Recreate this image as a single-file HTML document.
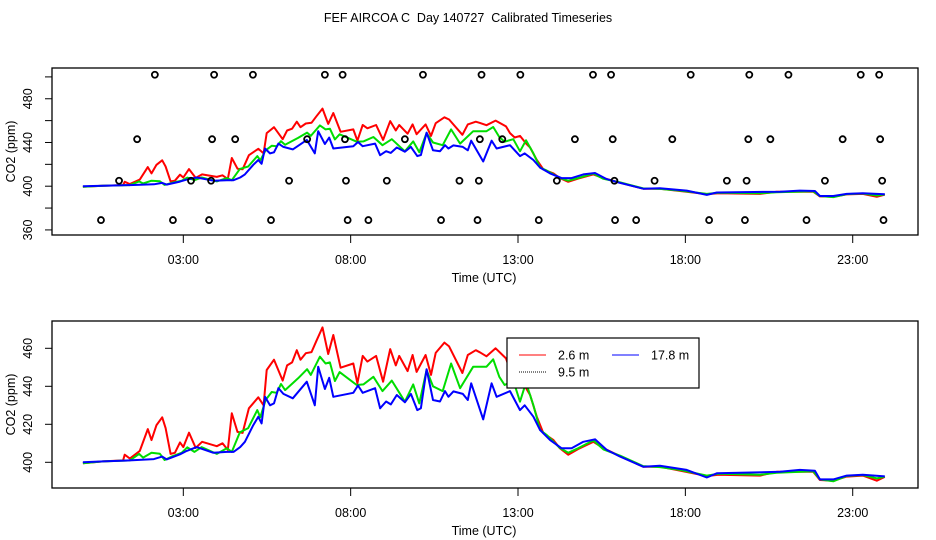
<!DOCTYPE html>
<html><head><meta charset="utf-8"><style>
body{margin:0;background:#fff;}
svg{display:block;font-family:"Liberation Sans",Arial,sans-serif;}
</style></head><body>
<svg id="chart" width="936" height="540" viewBox="0 0 936 540">
<text x="468" y="22" text-anchor="middle" font-size="12.5" style="white-space:pre">FEF AIRCOA C  Day 140727  Calibrated Timeseries</text>
</svg>
<script>
// ---- data (hours UTC, ppm) ----
const redT=[0,0.6,1.2,1.25,1.4,1.7,1.94,2.05,2.2,2.37,2.47,2.62,2.75,2.9,3.0,3.17,3.37,3.56,4.0,4.17,4.33,4.45,4.62,4.77,4.96,5.24,5.4,5.49,5.71,5.97,6.1,6.25,6.39,6.5,6.66,6.83,6.98,7.16,7.33,7.48,7.7,8.08,8.2,8.36,8.5,8.76,8.97,9.18,9.35,9.45,9.7,9.85,9.97,10.24,10.4,10.54,10.8,10.94,11.34,11.5,11.74,11.86,12.06,12.33,12.64,12.76,12.9,13.06,13.26,13.36,13.56,13.76,14.06,14.25,14.5,14.8,15.25,15.55,16.05,16.74,17.24,17.84,18.64,19.0,20.23,20.73,21.82,22.02,22.42,22.82,23.3,23.72,23.96];
const redV=[399.5,400.5,401,404,402,406,417.5,411.7,419.6,423.7,418,404.4,405,410.5,408,415.6,407.6,410.8,408.5,410,406.5,425.8,416,415.5,428.4,434.2,430,448.6,454,443,451,452.6,459,454,457.4,458,464,471,457,467,449.8,452,441.6,456,453,456,442.4,459.6,451,456,448,456.5,447.6,456.5,446,457.6,463,461,447,456.5,459,457.9,455.8,460,454.7,448.6,444.6,446,438.4,435.4,424,415.3,411.7,407.4,404,407,410.8,407.4,403.2,397.7,397.7,395.6,392.8,393.5,393,395,395,390.7,390.3,392.5,393,390.3,392.3];
const greenT=[0,0.6,1.4,1.68,1.8,2.05,2.3,2.44,2.65,2.95,3.12,3.33,3.55,4.0,4.3,4.45,4.69,4.94,5.21,5.3,5.46,5.64,5.79,5.92,6.04,6.43,6.7,6.81,7.08,7.25,7.38,7.53,7.67,8.18,8.38,8.68,8.95,9.23,9.62,9.87,10.05,10.27,10.46,10.75,11.0,11.27,11.66,12.06,12.26,12.44,12.6,12.86,13.06,13.24,13.46,13.66,13.86,14.25,14.5,14.8,15.25,15.55,16.05,16.74,17.24,17.84,18.64,19.0,20.23,20.73,21.82,22.02,22.42,22.82,23.3,23.72,23.96];
const greenV=[399.5,400.5,401,404.4,402.5,405,404.5,401.2,403,405,407.9,405.5,408,404.4,407.4,405.5,415.8,418,427.5,423.7,432.8,437,436.6,441.2,438,444.2,449,446,455.6,452,452.6,442.8,447.5,440.7,441,445,437.5,443,431.9,441,431,448.6,440,437.5,452,439,450.3,450.3,454.2,445,440.7,443,431.9,442,430,417,414.3,407.6,405,407.5,411.5,406.8,403.5,398,397.5,396,393,394,393.5,394.5,395.3,391,390,392.8,393.3,391.5,392.4];
const blueT=[0,0.6,1.4,2.12,2.37,2.5,2.9,3.1,3.4,3.9,4.3,4.5,4.7,4.84,5.09,5.24,5.34,5.44,5.59,5.71,5.84,5.99,6.27,6.69,6.93,7.03,7.23,7.36,7.48,8.08,8.22,8.36,8.73,8.88,9.06,9.2,9.38,9.62,9.8,9.99,10.1,10.27,10.46,10.67,10.82,10.92,11.07,11.35,11.5,11.6,11.96,12.21,12.36,12.76,13.06,13.2,13.46,13.66,13.96,14.3,14.6,14.95,15.3,15.65,16.05,16.74,17.24,18.04,18.64,18.94,20.83,21.42,21.87,22.02,22.42,22.82,23.3,23.96];
const blueV=[400,400.5,401,401.7,403,401.5,404.2,406,408,405,405.5,405.5,408,410.8,419.6,424,420.5,434.5,430,431,439,436,433.7,442.4,430,450.3,438.6,444.5,434.5,436.6,440.4,436.6,439,428.4,432,430.5,435.4,431.6,436,427.5,428.5,449,432.8,432,437.5,434.5,437.3,436,432.8,441.6,422.6,441.6,434.5,437.5,427.5,430,424,417,411.7,407.4,407.4,410.8,412.1,406.5,403,397.7,398.2,396,392,394.2,395,396,395.6,391,391,393,393.5,392.6];
// flag markers (hours) at four levels
const flagLevels=[502,443,405,369];
const flagRow502=[2.15,3.92,5.08,7.23,7.76,10.16,11.91,13.07,15.24,15.78,18.16,19.91,21.08,23.24,23.79];
const flagRow443=[1.62,3.86,4.55,6.7,7.83,9.62,11.86,12.53,14.7,15.83,17.61,19.88,20.54,22.7,23.82];
const flagRow405=[1.08,3.23,3.83,6.16,7.86,9.08,11.25,11.83,14.16,15.88,17.08,19.24,19.83,22.17,23.88];
const flagRow369=[0.54,2.69,3.77,5.62,7.91,8.53,10.7,11.79,13.62,15.9,16.53,18.71,19.78,21.62,23.92];
const xTicks=[3,8,13,18,23];
const xTickLabels=["03:00","08:00","13:00","18:00","23:00"];
const topYTicks=[360,380,400,420,440,460,480,500];
const topYLabels=[360,400,440,480];
const botYTicks=[400,420,440,460];

const NS="http://www.w3.org/2000/svg";
const svg=document.getElementById('chart');
function mk(tag,attrs,parent){const e=document.createElementNS(NS,tag);for(const k in attrs)e.setAttribute(k,attrs[k]);(parent||svg).appendChild(e);return e;}
const X0=52,X1=918;
function xs(h){return 82.9+h*33.47;}

function panel(name,top,bot,y400,ppx,yTicks,yLabels,withFlags,withLegend){
  const g=mk('g',{});
  
  
  const ys=v=>y400-(v-400)*ppx;
  const box=mk('rect',{x:X0,y:top,width:X1-X0,height:bot-top,fill:'none',stroke:'#000','stroke-width':1.3},g);
  
  
  const xa=mk('g',{},g);
  
  
  xTicks.forEach((h,i)=>{
    mk('line',{x1:xs(h),x2:xs(h),y1:bot,y2:bot+8,stroke:'#000','stroke-width':1},xa);
    const t=mk('text',{x:xs(h),y:bot+29,'text-anchor':'middle','font-size':12.5},xa);
    t.textContent=xTickLabels[i];
    
    
  });
  const xt=mk('text',{x:484,y:bot+47,'text-anchor':'middle','font-size':12.5},g);
  xt.textContent='Time (UTC)';
  
  
  const ya=mk('g',{},g);
  
  
  yTicks.forEach(v=>{mk('line',{x1:X0-7,x2:X0,y1:ys(v),y2:ys(v),stroke:'#000','stroke-width':1},ya);});
  yLabels.forEach(v=>{
    const t=mk('text',{x:32,y:ys(v),'text-anchor':'middle','font-size':12.5,transform:`rotate(-90 32 ${ys(v)})`},ya);
    t.textContent=v;
    
    
  });
  const cy=(top+bot)/2;
  const yt=mk('text',{x:15,y:cy,'text-anchor':'middle','font-size':12.5,transform:`rotate(-90 15 ${cy})`},g);
  yt.textContent='CO2 (ppm)';
  
  
  const series=[[redT,redV,'#ff0000','series-2-6m'],[greenT,greenV,'#00dd00','series-9-5m'],[blueT,blueV,'#0000ff','series-17-8m']];
  series.forEach(([T,V,c,n])=>{
    const pts=T.map((h,i)=>xs(h).toFixed(1)+','+ys(V[i]).toFixed(1)).join(' ');
    const p=mk('polyline',{points:pts,fill:'none',stroke:c,'stroke-width':2,'stroke-linejoin':'round'},g);
    
    
  });
  if(withFlags){
    const fg=mk('g',{},g);
    
    
    [flagRow502,flagRow443,flagRow405,flagRow369].forEach((row,ri)=>{
      row.forEach(h=>{
        const c=mk('circle',{cx:xs(h),cy:ys(flagLevels[ri]),r:3,fill:'none',stroke:'#000','stroke-width':1.8},fg);
        
        
      });
    });
  }
  if(withLegend){
    const lg=mk('g',{},g);
    
    
    mk('rect',{x:507,y:338,width:192,height:50,fill:'#fff',stroke:'#000','stroke-width':1.2},lg);
    const ents=[[519,355,'#ff0000','2.6 m',null],[612,355,'#0000ff','17.8 m',null],[519,372,'#000','9.5 m','1,1']];
    ents.forEach(([x,y,c,l,d])=>{
      const e=mk('g',{},lg);
      
      
      const a={x1:x,x2:x+27,y1:y,y2:y,stroke:c,'stroke-width':1};
      if(d)a['stroke-dasharray']=d;
      mk('line',a,e);
      const t=mk('text',{x:x+39,y:y+4.5,'font-size':12.5},e);
      t.textContent=l;
    });
  }
}
panel('top-panel',68,235,186.2,1.093,topYTicks,topYLabels,true,false);
panel('bottom-panel',321,488,462.3,1.9,botYTicks,botYTicks,false,true);
</script>
</body></html>
